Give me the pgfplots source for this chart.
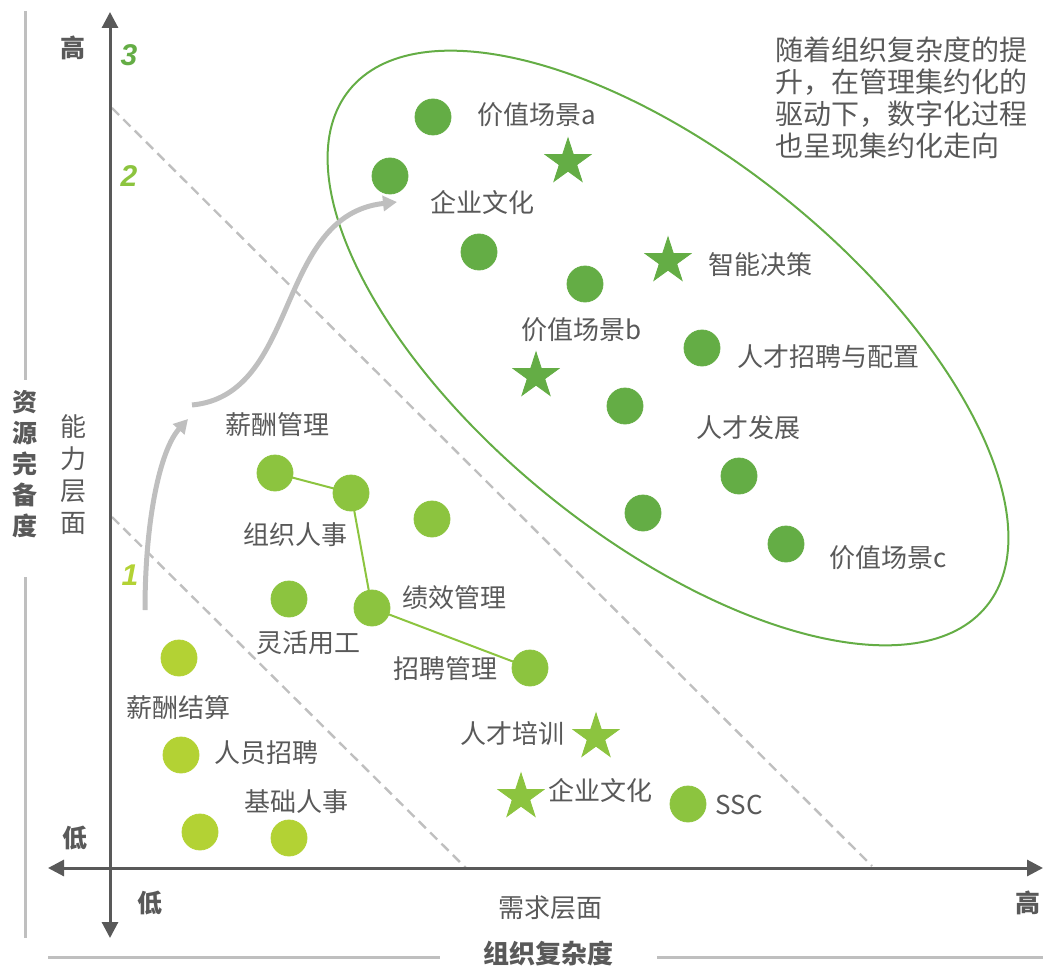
\documentclass[border=0pt]{standalone}
\usepackage{fontspec}
\setmainfont{Noto Sans CJK SC}
\newfontfamily\numfont{Liberation Sans}
\usepackage{pgfplots}
\pgfplotsset{compat=1.18}
\usetikzlibrary{arrows.meta}
\definecolor{dkg}{HTML}{64AD45}
\definecolor{ltg}{HTML}{8CC43F}
\definecolor{ylg}{HTML}{B3D234}
\definecolor{txt}{HTML}{595959}
\definecolor{axg}{HTML}{595959}
\definecolor{lgray}{HTML}{BFBFBF}
\pgfdeclareplotmark{fstar}{%
  \pgfpathmoveto{\pgfpointpolar{90}{\pgfplotmarksize}}%
  \pgfpathlineto{\pgfpointpolar{126}{0.382\pgfplotmarksize}}%
  \pgfpathlineto{\pgfpointpolar{162}{\pgfplotmarksize}}%
  \pgfpathlineto{\pgfpointpolar{198}{0.382\pgfplotmarksize}}%
  \pgfpathlineto{\pgfpointpolar{234}{\pgfplotmarksize}}%
  \pgfpathlineto{\pgfpointpolar{270}{0.382\pgfplotmarksize}}%
  \pgfpathlineto{\pgfpointpolar{306}{\pgfplotmarksize}}%
  \pgfpathlineto{\pgfpointpolar{342}{0.382\pgfplotmarksize}}%
  \pgfpathlineto{\pgfpointpolar{18}{\pgfplotmarksize}}%
  \pgfpathlineto{\pgfpointpolar{54}{0.382\pgfplotmarksize}}%
  \pgfpathclose
  \pgfusepathqfillstroke
}
\newcommand{\lbl}{\fontsize{13}{15.6}\selectfont}
\begin{document}
\begin{tikzpicture}
\begin{axis}[name=ax, width=521.5pt, height=484pt, scale only axis,
  xmin=0, xmax=1043, ymin=0, ymax=968, y dir=reverse,
  axis lines=none, clip=false]
% frame lines
\draw[lgray, line width=1.5pt] (axis cs:25,11) -- (axis cs:25,380);
\draw[lgray, line width=1.5pt] (axis cs:25,577) -- (axis cs:25,938);
\draw[lgray, line width=1.5pt] (axis cs:48,957) -- (axis cs:440,957);
\draw[lgray, line width=1.5pt] (axis cs:657,957) -- (axis cs:1043,957);
% dashed separators
\draw[lgray, line width=1.2pt, dash pattern=on 5pt off 3pt] (axis cs:112,108) -- (axis cs:872,866);
\draw[lgray, line width=1.2pt, dash pattern=on 5pt off 3pt] (axis cs:112,517) -- (axis cs:466,868);
% axes
\draw[axg, line width=1.5pt, {Triangle[length=8pt,width=8pt]}-{Triangle[length=8pt,width=8pt]}] (axis cs:110,938) -- (axis cs:110,12);
\draw[axg, line width=1.5pt, {Triangle[length=8pt,width=8pt]}-{Triangle[length=8pt,width=8pt]}] (axis cs:48,868) -- (axis cs:1043,868);
% ellipse
\draw[dkg, line width=1pt, rotate around={-39:(axis cs:668,348)}] (axis cs:668,348) ellipse [x radius=205pt, y radius=95pt];
% gray curved arrows
\draw[lgray, line width=2.5pt, -{Triangle[length=7pt,width=7.5pt]}] (axis cs:145,610) .. controls (axis cs:145,520) and (axis cs:160,450) .. (axis cs:188,419);
\draw[lgray, line width=2.5pt, -{Triangle[length=7pt,width=7.5pt]}] (axis cs:192,405) .. controls (axis cs:300,395) and (axis cs:275,215) .. (axis cs:397,202);
% connecting line
\addplot[ltg, line width=1pt, mark=none] coordinates {(275,473) (351,493) (372,608) (530,668)};
% dark green circles
\addplot[only marks, mark=*, mark size=9pt, mark options={fill=dkg, draw=dkg}] coordinates {
(433,117) (390,176) (479,252) (585,284) (702,348) (625,406) (739,476) (643,513) (786,544)};
% light green circles
\addplot[only marks, mark=*, mark size=9pt, mark options={fill=ltg, draw=ltg}] coordinates {
(275,473) (351,493) (432,519) (289,599) (372,608) (530,668) (688,804)};
% yellow-green circles
\addplot[only marks, mark=*, mark size=9pt, mark options={fill=ylg, draw=ylg}] coordinates {
(179,658) (181,755) (200,832) (289,838)};
% stars
\addplot[only marks, mark=fstar, mark size=12pt, mark options={fill=dkg, draw=dkg}] coordinates {
(568,162) (668,261) (536,376)};
\addplot[only marks, mark=fstar, mark size=12pt, mark options={fill=ltg, draw=ltg}] coordinates {
(596,737) (521,797)};
% labels
\begin{scope}[every node/.style={text=txt, inner sep=0pt, font=\lbl}]
\node at (axis cs:537,115) {价值场景a};
\node at (axis cs:482,203) {企业文化};
\node at (axis cs:760,265) {智能决策};
\node at (axis cs:582,330) {价值场景b};
\node at (axis cs:828,357) {人才招聘与配置};
\node at (axis cs:748,428) {人才发展};
\node at (axis cs:888,558) {价值场景c};
\node at (axis cs:277,425) {薪酬管理};
\node at (axis cs:295,535) {组织人事};
\node at (axis cs:454,598) {绩效管理};
\node at (axis cs:308,643) {灵活用工};
\node at (axis cs:445,669) {招聘管理};
\node at (axis cs:512,734) {人才培训};
\node at (axis cs:600,790) {企业文化};
\node at (axis cs:739,805) {SSC};
\node at (axis cs:178,708) {薪酬结算};
\node at (axis cs:266,753) {人员招聘};
\node at (axis cs:296,802) {基础人事};
\node at (axis cs:550,908) {需求层面};
\node[align=center, font=\fontsize{13}{16}\selectfont] at (axis cs:73,475) {能\\力\\层\\面};
\node[anchor=west, align=left, font=\fontsize{14}{16}\selectfont] at (axis cs:775,97.5) {随着组织复杂度的提\\升，在管理集约化的\\驱动下，数字化过程\\也呈现集约化走向};
\node[font=\fontsize{12.5}{15}\selectfont\bfseries] at (axis cs:73,48) {高};
\node[font=\fontsize{12.5}{15}\selectfont\bfseries] at (axis cs:75,838) {低};
\node[font=\fontsize{12.5}{15}\selectfont\bfseries] at (axis cs:150,903) {低};
\node[font=\fontsize{12.5}{15}\selectfont\bfseries] at (axis cs:1028,903) {高};
\node[font=\fontsize{13}{15}\selectfont\bfseries] at (axis cs:548,953) {组织复杂度};
\node[align=center, font=\fontsize{12.5}{15.5}\selectfont\bfseries] at (axis cs:25,464) {资\\源\\完\\备\\度};
\end{scope}
\node[text=dkg, inner sep=0pt, font=\numfont\fontsize{15}{15}\selectfont\bfseries\itshape] at (axis cs:129,55) {3};
\node[text=ltg, inner sep=0pt, font=\numfont\fontsize{15}{15}\selectfont\bfseries\itshape] at (axis cs:129,176) {2};
\node[text=ylg, inner sep=0pt, font=\numfont\fontsize{15}{15}\selectfont\bfseries\itshape] at (axis cs:130,575) {1};
\end{axis}
\pgfresetboundingbox
\path (ax.south west) rectangle (ax.north east);
\end{tikzpicture}
\end{document}
